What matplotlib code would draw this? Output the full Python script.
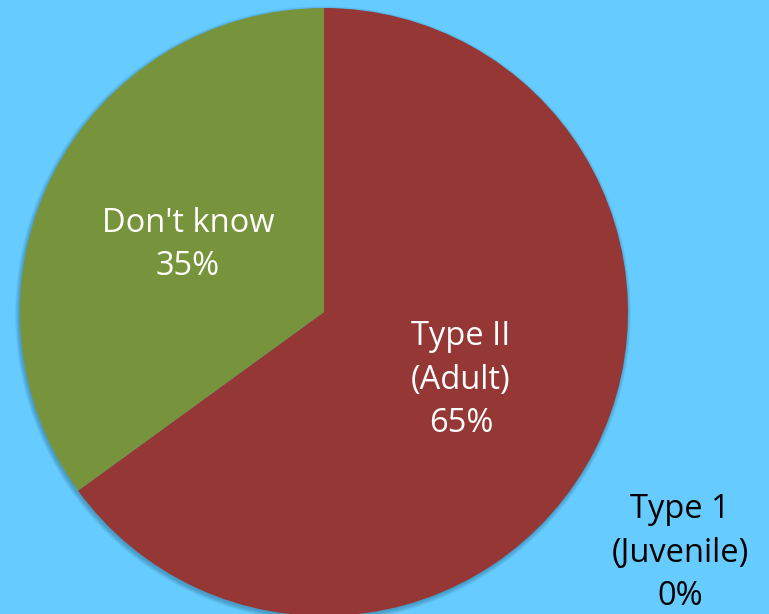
import matplotlib.pyplot as plt
from matplotlib.patches import Circle

categories = ['Type 1\n(Juvenile)', 'Type II\n(Adult)', "Don't know"]
values = [0, 65, 35]
colors = ['#4F81BD', '#953735', '#77933C']
label_colors = ['black', 'white', 'white']
label_pos = [(680, 61), (461, 234), (188, 369)]

bg = '#66CCFF'
W, H = 769, 614
fig = plt.figure(figsize=(W / 100, H / 100), dpi=100, facecolor=bg)
ax = fig.add_axes([0, 0, 1, 1])

cx, cy, r = 324, 302, 304

# soft shadow under the pie
for i in range(8):
    ax.add_patch(Circle((cx - 1, cy - 2), r + 4 - i * 0.6, color='#1a4a66',
                        alpha=0.05, lw=0, zorder=0))

ax.pie(values, colors=colors, startangle=90, counterclock=False,
       center=(cx, cy), radius=r, wedgeprops=dict(linewidth=0), frame=True)
ax.set_xlim(0, W)
ax.set_ylim(0, H)
ax.set_aspect('equal')
ax.axis('off')

for name, v, (x, y), c in zip(categories, values, label_pos, label_colors):
    ax.text(x, y, f'{name}\n{v}%', ha='center', va='center', color=c,
            fontsize=23.5, family='Open Sans', linespacing=1.42)

fig.savefig('out.png', dpi=100, facecolor=bg)
